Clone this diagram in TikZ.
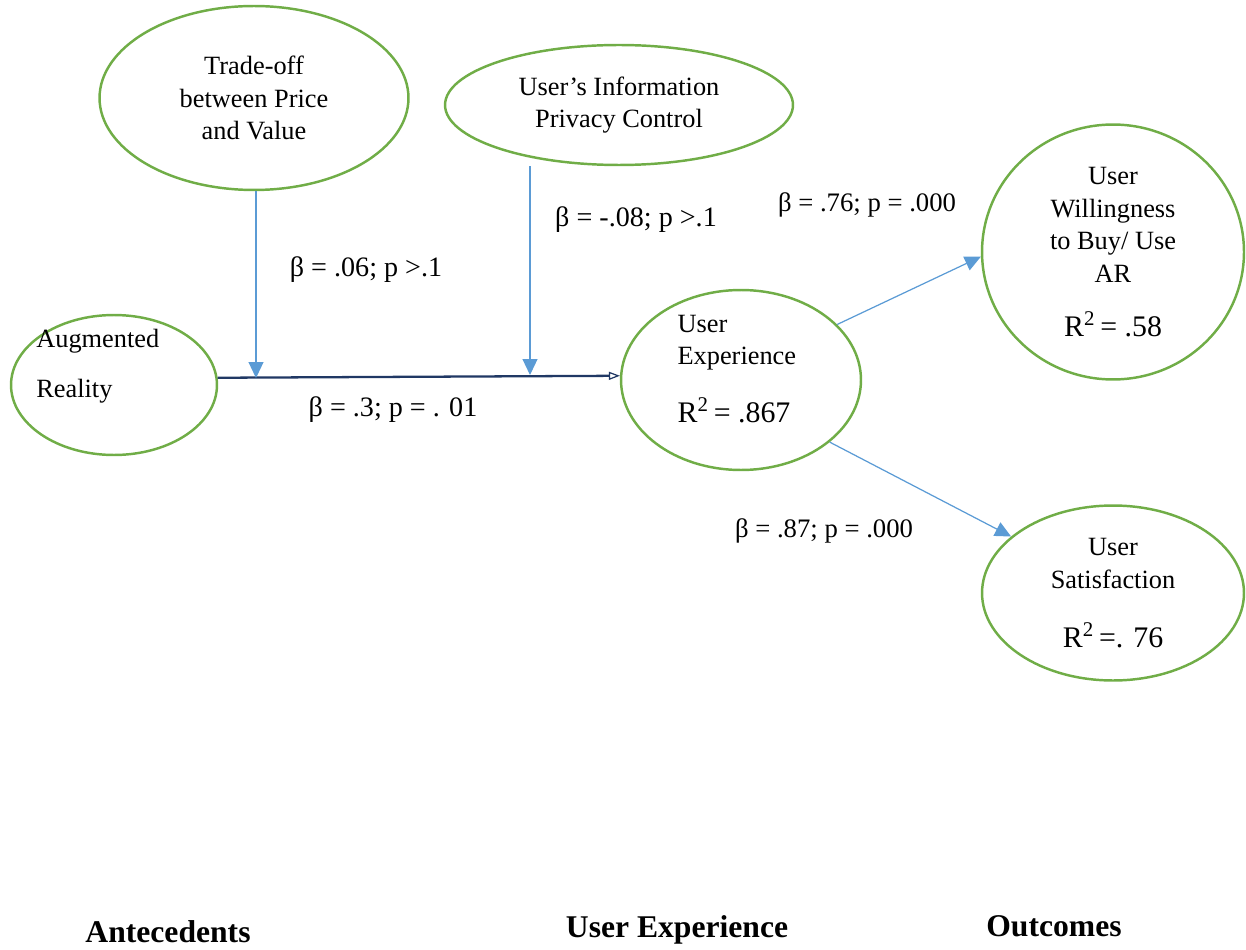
\documentclass[tikz,border=0pt]{standalone}
\usepackage{fontspec}
\setmainfont{Liberation Serif}
\usepackage{tikz}
\usetikzlibrary{shapes.geometric,arrows.meta}

\definecolor{ovalgreen}{HTML}{70AD47}
\definecolor{pathblue}{HTML}{5B9BD5}
\definecolor{pathnavy}{HTML}{203864}

\tikzset{
  construct/.style={ellipse, draw=ovalgreen, line width=1.4pt, inner sep=0pt, align=center,
                    font=\fontsize{15}{18.7}\selectfont},
  bluepath/.style={draw=pathblue, line width=0.7pt, -{Triangle[length=0.32cm,width=0.3cm]}},
  mainpath/.style={draw=pathnavy, line width=1.3pt, -{Triangle[open,length=0.22cm,width=0.16cm,line width=0.7pt]}},
  coef/.style={font=\fontsize{16}{19}\selectfont},
  coefsmall/.style={font=\fontsize{15.2}{18}\selectfont},
  heading/.style={font=\fontsize{18}{22}\bfseries\selectfont}
}

\begin{document}
\begin{tikzpicture}[x=0.02cm, y=-0.02cm]

    \useasboundingbox (0,0) rectangle (1246,949);

    % Constructs (ovals)
    \node[construct, minimum width=6.18cm, minimum height=3.68cm] (tradeoff) at (254,98)
        {Trade-off\\between Price\\and Value};                                  % Moderator 1
    \node[construct, minimum width=6.96cm, minimum height=2.4cm] (privacy) at (619,105)
        {User's Information\\Privacy Control};                                   % Moderator 2
    \node[construct, minimum width=4.12cm, minimum height=2.8cm] (ar) at (114,385) {};   % Antecedent
    \node[anchor=west, align=left, inner sep=0pt, font=\fontsize{15}{28.4}\selectfont] (artext) at (36,366)
        {Augmented\\Reality};
    \node[construct, align=left, inner ysep=-10pt, minimum width=4.8cm, minimum height=3.6cm] (ue) at (741,380)
        {User\\Experience\\[14pt]{\fontsize{17}{20}\selectfont R\textsuperscript{2}\,= .867\rule[-13pt]{0pt}{1pt}}\hspace*{8pt}};
    \node[construct, inner ysep=-12pt, minimum width=5.24cm, minimum height=5.1cm] (will) at (1113,252)
        {User\\Willingness\\to Buy/ Use\\AR\\[12pt]{\fontsize{17}{20}\selectfont R\textsuperscript{2}\,= .58}};
    \node[construct, inner ysep=-10pt, minimum width=5.24cm, minimum height=3.5cm] (sat) at (1113,593)
        {User\\Satisfaction\\[15pt]{\fontsize{17}{20}\selectfont R\textsuperscript{2}\,=. 76}};

    % Points where the moderators meet the main path
    \coordinate (m1) at (256,378);
    \coordinate (m2) at (530,375);

    % Main path and moderating paths
    \draw[mainpath] (ar.4) -- (ue.178);                 % AR -> UX
    \draw[bluepath] (tradeoff.south -| m1) -- (m1);     % price/value moderation
    \draw[bluepath] (privacy.south -| m2) -- (m2);      % privacy moderation

    % Outcome paths
    \draw[bluepath] (ue.30) -- (will.182);              % UX -> willingness
    \draw[bluepath] (ue.-35) -- (sat.151);              % UX -> satisfaction

    % Path coefficients
    \node[coef] (c1) at (366,270) {β = .06; p >.1};
    \node[coef] (c2) at (636,220) {β = -.08; p >.1};
    \node[coef] (c3) at (393,410) {β = .3; p = . 01};
    \node[coefsmall] (c4) at (867,205) {β = .76; p = .000};
    \node[coefsmall] (c5) at (824,531) {β = .87; p = .000};

    % Column headings
    \node[heading] (h1) at (168,932) {Antecedents};
    \node[heading] (h2) at (677,930) {User Experience};
    \node[heading] (h3) at (1054,926) {Outcomes};

\end{tikzpicture}
\end{document}
